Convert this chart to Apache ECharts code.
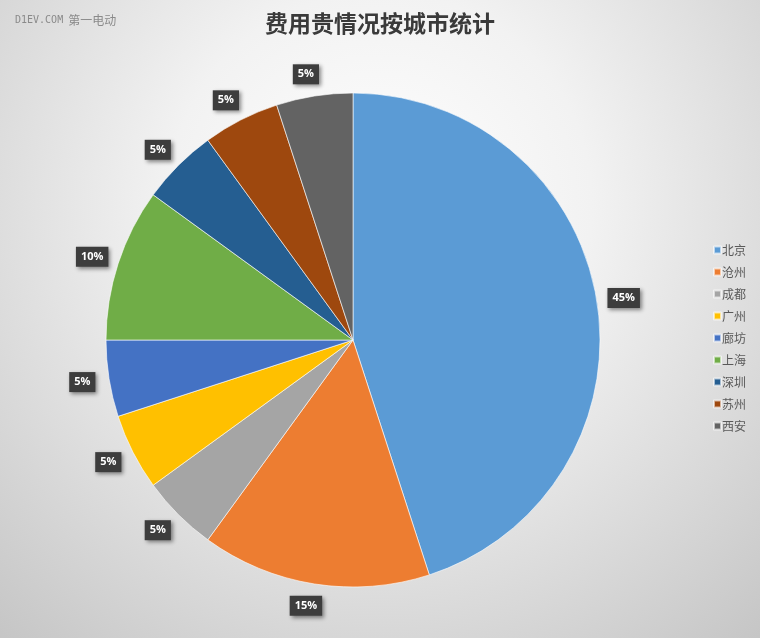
<!DOCTYPE html>
<html>
<head>
<meta charset="utf-8">
<script src="https://cdn.jsdelivr.net/npm/echarts@6/dist/echarts.min.js"></script>
<style>
html,body{margin:0;padding:0;width:760px;height:638px;overflow:hidden;}
#chart{width:760px;height:638px;}
</style>
</head>
<body>
<div id="chart"></div>
<script>
const cities = ['北京','沧州','成都','广州','廊坊','上海','深圳','苏州','西安'];
const shares = [45,15,5,5,5,10,5,5,5];
const colors = ['#5B9BD5','#ED7D31','#A5A5A5','#FFC000','#4472C4','#70AD47','#255E91','#9E480E','#636363'];
const titleText = '费用贵情况按城市统计';
const watermarkLatin = 'D1EV.COM';
const watermarkCJK = '第一电动';

const chart = echarts.init(document.getElementById('chart'));
chart.setOption({
  backgroundColor: {
    type: 'radial', x: 0.5, y: 0.32, r: 0.95,
    colorStops: [{offset: 0, color: '#ffffff'}, {offset: 0.35, color: '#f2f2f2'}, {offset: 1, color: '#c2c2c2'}]
  },
  color: colors,
  title: [
    {text: titleText, left: 'center', top: 7,
     textStyle: {fontFamily: 'Noto Sans CJK SC', fontSize: 23, fontWeight: 'bold', color: '#3a3a3a'}},
    {text: '{a|' + watermarkLatin + '} {b|' + watermarkCJK + '}', left: 10, top: 6,
     textStyle: {
       fontWeight: 'normal',
       rich: {
         a: {fontFamily: 'DejaVu Sans Mono', fontSize: 10, fontWeight: 'normal', color: '#8a8a8a'},
         b: {fontFamily: 'Noto Sans CJK SC', fontSize: 12, fontWeight: 'normal', color: '#8a8a8a'}
       }
     }}
  ],
  legend: {
    orient: 'vertical', left: 708, top: 239,
    icon: 'rect', itemWidth: 7, itemHeight: 7, itemGap: 10,
    data: cities,
    textStyle: {fontFamily: 'Noto Sans CJK SC', fontSize: 12, color: '#595959', padding: [0, 0, 0, -4]}
  },
  series: [{
    type: 'pie',
    center: [353, 340],
    radius: 247,
    startAngle: 90,
    clockwise: true,
    data: cities.map((c, i) => ({name: c, value: shares[i]})),
    itemStyle: {borderColor: 'rgba(255,255,255,0.6)', borderWidth: 1},
    label: {
      show: true, position: 'outside',
      formatter: p => p.value + '%',
      backgroundColor: '#3d3d3d',
      color: '#ffffff', fontWeight: 'bold', fontSize: 11,
      fontFamily: 'Open Sans, sans-serif',
      padding: [5, 5, 4, 5],
      shadowBlur: 4, shadowColor: 'rgba(0,0,0,0.45)', shadowOffsetX: 2, shadowOffsetY: 2
    },
    labelLine: {show: false, length: 22, length2: 0},
    labelLayout: function () { return {align: 'center', verticalAlign: 'middle'}; },
    emphasis: {disabled: true}
  }]
});
</script>
</body>
</html>
